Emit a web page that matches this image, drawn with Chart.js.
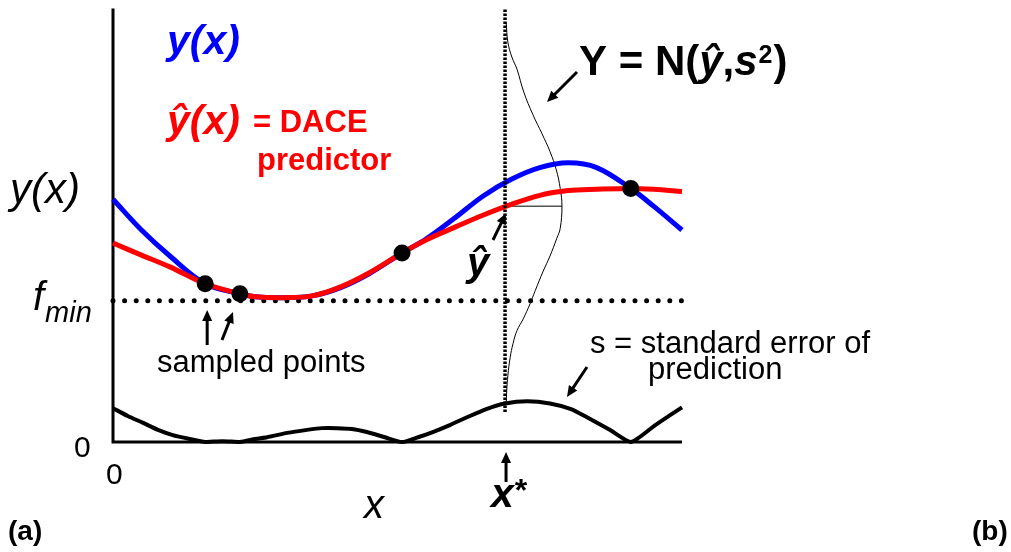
<!DOCTYPE html>
<html>
<head>
<meta charset="utf-8">
<script src="https://cdn.jsdelivr.net/npm/chart.js@4.4.1/dist/chart.umd.min.js"></script>
<style>
  html, body { margin: 0; padding: 0; background: #fff; }
  canvas { display: block; }
</style>
</head>
<body>
<canvas id="daceChart" width="1011" height="552"></canvas>
<script>
// grid along x (0..10) used for y(x) and the DACE predictor
const xGrid = [0, 0.5, 1, 1.62, 2.23, 2.5, 3, 3.5, 4, 4.5, 5.08, 5.5, 6, 6.5, 7, 7.5, 8, 8.5, 9.1, 9.5, 10];
const trueY = [5.60, 4.89, 4.29, 3.65, 3.42, 3.35, 3.33, 3.37, 3.56, 3.88, 4.36, 4.68, 5.16, 5.67, 6.06, 6.33, 6.44, 6.33, 5.85, 5.44, 4.89];
const predY = [4.59, 4.31, 4.04, 3.65, 3.42, 3.35, 3.33, 3.37, 3.58, 3.90, 4.36, 4.66, 4.95, 5.23, 5.48, 5.69, 5.80, 5.83, 5.85, 5.83, 5.78];

// sampled points
const sampleX = [1.62, 2.23, 5.08, 9.1];
const sampleY = [3.65, 3.42, 4.36, 5.85];

// standard error s(x)
const errX = [0, 0.26, 0.53, 0.79, 1.05, 1.35, 1.62, 1.92, 2.23, 2.50, 2.71, 3.06, 3.41, 3.67, 3.94, 4.20, 4.46, 4.78, 5.08, 5.36, 5.62, 5.92, 6.22, 6.56, 6.89, 7.28, 7.68, 8.05, 8.33, 8.73, 9.10, 9.53, 10];
const errY = [0.78, 0.60, 0.44, 0.28, 0.16, 0.07, 0, 0.02, 0, 0.07, 0.11, 0.21, 0.28, 0.32, 0.32, 0.30, 0.23, 0.11, 0, 0.11, 0.23, 0.39, 0.57, 0.76, 0.89, 0.94, 0.89, 0.76, 0.57, 0.28, 0, 0.39, 0.80];

// normal density Y = N(yhat, s^2) drawn sideways at x*
const densX = [6.91, 6.94, 7.01, 7.10, 7.22, 7.38, 7.54, 7.68, 7.79, 7.86, 7.89, 7.86, 7.80, 7.68, 7.56, 7.42, 7.33, 7.21, 7.10, 7.03, 6.98, 6.94, 6.92, 6.91];
const densY = [9.68, 9.22, 8.88, 8.60, 8.07, 7.55, 7.11, 6.70, 6.28, 5.85, 5.44, 4.93, 4.70, 4.29, 3.94, 3.49, 3.19, 2.84, 2.57, 2.27, 1.95, 1.54, 1.19, 0.85];

const xStar = 6.89;
const yHat = 5.44;
const fMin = 3.26;
const xTop = 10;
const yTop = 10;

const pts = (xs, ys) => xs.map((x, i) => ({ x: x, y: ys[i] }));

const FONT = '"Liberation Sans", Arial, sans-serif';

function arrow(ctx, x1, y1, x2, y2) {
    const a = Math.atan2(y2 - y1, x2 - x1);
    const len = 11, half = 5;
    ctx.beginPath();
    ctx.moveTo(x1, y1);
    ctx.lineTo(x2 - Math.cos(a) * len * 0.8, y2 - Math.sin(a) * len * 0.8);
    ctx.stroke();
    ctx.beginPath();
    ctx.moveTo(x2, y2);
    ctx.lineTo(x2 - Math.cos(a) * len - Math.sin(a) * half, y2 - Math.sin(a) * len + Math.cos(a) * half);
    ctx.lineTo(x2 - Math.cos(a) * len + Math.sin(a) * half, y2 - Math.sin(a) * len - Math.cos(a) * half);
    ctx.closePath();
    ctx.fill();
}

// draws a run of text pieces left to right
function runs(ctx, x, y, parts) {
    parts.forEach(p => {
        ctx.font = p.f;
        ctx.fillStyle = p.c || '#000';
        ctx.fillText(p.t, x + (p.dx || 0), y + (p.dy || 0));
        x += ctx.measureText(p.t).width + (p.dx || 0);
    });
}

const axesPlugin = {
    id: 'axes',
    beforeDatasetsDraw(chart) {
        const ctx = chart.ctx, xs = chart.scales.x, ys = chart.scales.y;
        const x0 = xs.getPixelForValue(0), x1 = xs.getPixelForValue(xTop);
        const y0 = ys.getPixelForValue(0), y1 = ys.getPixelForValue(yTop);
        ctx.save();
        ctx.strokeStyle = '#000';
        ctx.lineWidth = 3;
        ctx.beginPath();
        ctx.moveTo(x0, y1);
        ctx.lineTo(x0, y0 + 1.5);
        ctx.moveTo(x0, y0);
        ctx.lineTo(x1, y0);
        ctx.stroke();
        ctx.restore();
    }
};

const labelPlugin = {
    id: 'labels',
    afterDraw(chart) {
        const ctx = chart.ctx, xs = chart.scales.x, ys = chart.scales.y;
        const px = xs.getPixelForValue(xStar);
        ctx.save();
        ctx.textBaseline = 'alphabetic';

        // legend-like labels
        runs(ctx, 167, 54, [{ t: 'y(x)', f: 'italic bold 41px ' + FONT, c: '#0000ff' }]);
        runs(ctx, 167, 134, [{ t: 'ŷ(x)', f: 'italic bold 41px ' + FONT, c: '#ff0000' }]);
        runs(ctx, 253, 132, [{ t: '= DACE', f: 'bold 31px ' + FONT, c: '#ff0000' }]);
        runs(ctx, 257, 170, [{ t: 'predictor', f: 'bold 31px ' + FONT, c: '#ff0000' }]);

        // axis annotations
        runs(ctx, 10, 203, [{ t: 'y(x)', f: 'italic 42px ' + FONT }]);
        runs(ctx, 33, 310, [{ t: 'f', f: 'italic 40px ' + FONT }, { t: 'min', f: 'italic 29px ' + FONT, dx: 1, dy: 12 }]);
        runs(ctx, 74, 457, [{ t: '0', f: '30px ' + FONT }]);
        runs(ctx, 106, 484, [{ t: '0', f: '30px ' + FONT }]);
        runs(ctx, 364, 518, [{ t: 'x', f: 'italic 40px ' + FONT }]);
        runs(ctx, 8, 540, [{ t: '(a)', f: 'bold 28px ' + FONT }]);
        runs(ctx, 972, 540, [{ t: '(b)', f: 'bold 28px ' + FONT }]);

        // callouts
        runs(ctx, 157, 372, [{ t: 'sampled points', f: '31px ' + FONT }]);
        runs(ctx, 590, 353, [{ t: 's = standard error of', f: '31px ' + FONT }]);
        runs(ctx, 648, 379, [{ t: 'prediction', f: '31px ' + FONT }]);
        runs(ctx, 579, 75, [
            { t: 'Y = N(', f: 'bold 42px ' + FONT },
            { t: 'ŷ', f: 'italic bold 42px ' + FONT },
            { t: ',', f: 'bold 42px ' + FONT },
            { t: 's', f: 'italic bold 42px ' + FONT },
            { t: '2', f: 'bold 25px ' + FONT, dx: 1, dy: -12 },
            { t: ')', f: 'bold 42px ' + FONT, dx: 1 }
        ]);
        runs(ctx, 467, 276, [{ t: 'ŷ', f: 'italic bold 40px ' + FONT }]);
        runs(ctx, px - 14, 507, [{ t: 'x', f: 'italic bold 41px ' + FONT }, { t: '*', f: 'bold 32px ' + FONT, dx: 1, dy: -6 }]);

        // arrows
        ctx.strokeStyle = '#000';
        ctx.fillStyle = '#000';
        ctx.lineWidth = 3;
        arrow(ctx, 577, 72, 547, 102);
        arrow(ctx, 493, 240, px + 1, ys.getPixelForValue(yHat) + 7);
        arrow(ctx, xs.getPixelForValue(sampleX[0]) + 2, 345, xs.getPixelForValue(sampleX[0]) + 2, 310);
        arrow(ctx, 222, 340, 233, 312);
        arrow(ctx, 587, 367, 567, 397);
        arrow(ctx, px + 1, 482, px + 1, 452);
        ctx.restore();
    }
};

new Chart(document.getElementById('daceChart'), {
    type: 'line',
    data: {
        datasets: [
            {
                label: 'sampled points',
                data: pts(sampleX, sampleY),
                showLine: false,
                pointRadius: 8.5,
                pointBackgroundColor: '#000',
                pointBorderWidth: 0,
                clip: false
            },
            {
                label: 'x*',
                data: [{ x: xStar, y: 0.69 }, { x: xStar, y: yTop }],
                borderColor: '#000',
                borderWidth: 3.5,
                borderDash: [2.5, 1.5],
                pointRadius: 0,
                clip: false
            },
            {
                label: 'DACE predictor',
                data: pts(xGrid, predY),
                borderColor: '#ff0000',
                borderWidth: 5,
                tension: 0.35,
                pointRadius: 0,
                clip: false
            },
            {
                label: 'y(x)',
                data: pts(xGrid, trueY),
                borderColor: '#0000ff',
                borderWidth: 5,
                tension: 0.35,
                pointRadius: 0,
                clip: false
            },
            {
                label: 'f_min',
                data: [{ x: 0, y: fMin }, { x: xTop, y: fMin }],
                borderColor: '#000',
                borderWidth: 5,
                borderDash: [0, 11.6],
                borderCapStyle: 'round',
                pointRadius: 0,
                clip: false
            },
            {
                label: 'yhat level',
                data: [{ x: xStar, y: yHat }, { x: densX[10], y: yHat }],
                borderColor: '#000',
                borderWidth: 1,
                pointRadius: 0,
                clip: false
            },
            {
                label: 'N(yhat, s^2)',
                data: pts(densX, densY),
                borderColor: '#000',
                borderWidth: 1,
                tension: 0.4,
                pointRadius: 0,
                clip: false
            },
            {
                label: 's',
                data: pts(errX, errY),
                borderColor: '#000',
                borderWidth: 4,
                borderJoinStyle: 'round',
                tension: 0.2,
                pointRadius: 0,
                clip: false
            }
        ]
    },
    options: {
        responsive: false,
        devicePixelRatio: 1,
        animation: false,
        layout: { padding: { left: 113, right: 329, top: 6, bottom: 110 } },
        scales: {
            x: { type: 'linear', min: 0, max: xTop, display: false },
            y: { type: 'linear', min: 0, max: yTop, display: false }
        },
        plugins: {
            legend: { display: false },
            tooltip: { enabled: false }
        }
    },
    plugins: [axesPlugin, labelPlugin]
});
</script>
</body>
</html>
